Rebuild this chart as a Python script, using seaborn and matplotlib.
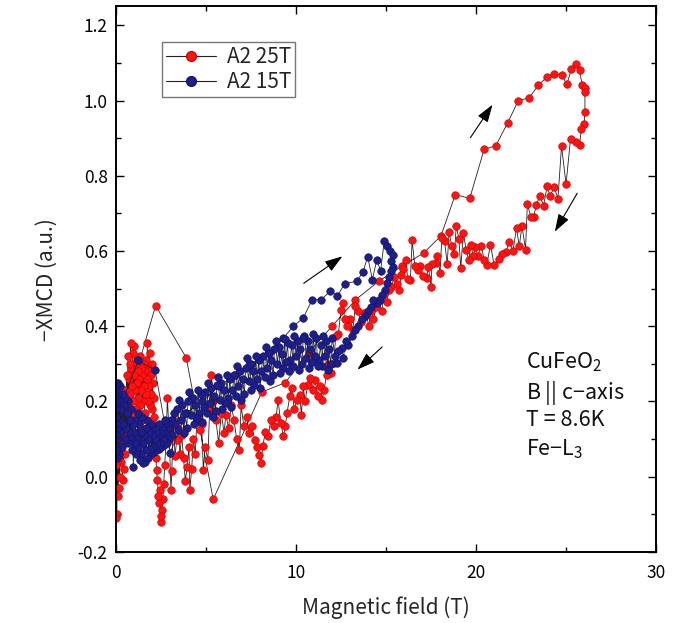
import matplotlib
matplotlib.use("Agg")
import matplotlib.pyplot as plt
import matplotlib.ticker as mticker
from matplotlib.lines import Line2D
import seaborn as sns
import pandas as pd

# ---------------- data ----------------
series_names = ["A2 25T", "A2 15T"]

# A2 25T : up-sweep then down-sweep (pulse)
red_field = [
    0.05, 0.4, 1.2, 2.2, 3.9, 5.4, 8.1, 9.4, 10.7, 12.0, 13.3, 14.6, 15.9, 17.1,
    18.05, 18.85, 19.65, 20.45, 21.1, 21.75, 22.35, 22.95, 23.45, 23.95, 24.35,
    24.75, 25.05, 25.3, 25.55, 25.75, 25.9, 26.05, 26.05,
    26.05, 26.0, 25.85, 25.75, 25.55, 25.25, 25.0, 24.75, 24.55, 24.35, 24.1,
    23.95, 23.75, 23.55, 23.35, 23.2, 23.05, 22.85, 22.75, 22.55, 22.4, 22.25,
    22.05, 21.85, 21.65, 21.45, 21.25, 21.0, 20.8, 20.6, 20.45, 20.3, 20.1,
    19.95, 19.85, 19.7, 19.6, 19.45, 19.3, 19.15, 19.05, 18.9, 18.8, 18.65,
    18.5, 18.4, 18.25, 18.1, 18.0, 17.85, 17.75, 17.55, 17.5, 17.35, 17.25,
    17.05, 16.9, 16.75, 16.6, 16.45, 16.35, 16.2, 16.1, 15.95, 15.85, 15.7,
    15.6, 15.45, 15.3, 15.15, 15.05, 14.9, 14.75, 14.6, 14.45, 14.3, 14.15,
    14.05, 13.9, 13.75, 13.6, 13.45, 13.3, 13.15, 13.0, 12.85, 12.7, 12.6,
    12.5, 12.35, 12.2, 12.1, 11.95, 11.8, 11.7, 11.55, 11.45, 11.35, 11.2,
    11.05, 10.95, 10.8, 10.65, 10.5, 10.4, 10.3, 10.2, 10.05, 9.9, 9.75, 9.65,
    9.5, 9.4, 9.3, 9.15, 9.0, 8.9, 8.75, 8.6, 8.45, 8.3, 8.15, 8.05, 7.95,
    7.85, 7.7, 7.55, 7.4, 7.25, 7.1, 6.95, 6.85, 6.7, 6.55, 6.4, 6.25, 6.1,
    6.0, 5.85, 5.7, 5.55, 5.4, 5.3, 5.2, 5.1, 4.95, 4.85, 4.75, 4.65, 4.5,
    4.4, 4.3, 4.2, 4.1, 4.05, 3.95, 3.85, 3.75, 3.65, 3.55, 3.45, 3.37, 3.28,
    3.18, 3.1, 3.05, 2.95, 2.85, 2.78, 2.7, 2.65, 2.6, 2.55, 2.52, 2.48, 2.44,
    2.4, 2.35, 2.3, 2.25,
    2.22, 2.19, 2.16, 2.13, 2.1, 2.07, 2.04, 2.01, 1.98, 1.95,
    1.92, 1.89, 1.86, 1.83, 1.8, 1.77, 1.74, 1.71, 1.68, 1.65,
    1.62, 1.59, 1.56, 1.53, 1.5, 1.47, 1.44, 1.41, 1.38, 1.35,
    1.32, 1.29, 1.26, 1.23, 1.2, 1.17, 1.14, 1.11, 1.08, 1.05,
    1.02, 0.99, 0.96, 0.93, 0.9, 0.87, 0.84, 0.81, 0.78, 0.75,
    0.72, 0.69, 0.66, 0.63, 0.6, 0.57, 0.54, 0.51, 0.48, 0.45,
    0.42, 0.39, 0.36, 0.33, 0.3, 0.27, 0.24, 0.21, 0.18, 0.15,
    0.13, 0.11, 0.09, 0.07, 0.05, 0.04, 0.03, 0.02, 0.01, 0.0,
]
red_xmcd = [
    -0.03, 0.12, 0.29, 0.455, 0.316, -0.06, 0.225, 0.25, 0.33, 0.40, 0.47, 0.52, 0.56, 0.595,
    0.64, 0.75, 0.74, 0.87, 0.88, 0.94, 1.0, 1.007, 1.04, 1.063, 1.071,
    1.067, 1.044, 1.084, 1.098, 1.08, 1.04, 1.033, 1.022,
    0.97, 0.938, 0.923, 0.882, 0.89, 0.898, 0.778, 0.879, 0.739, 0.769, 0.747,
    0.772, 0.72, 0.747, 0.723, 0.69, 0.691, 0.724, 0.604, 0.667, 0.612, 0.661,
    0.60, 0.625, 0.597, 0.592, 0.578, 0.564, 0.617, 0.564, 0.575, 0.614, 0.588,
    0.61, 0.586, 0.617, 0.575, 0.602, 0.648, 0.555, 0.632, 0.666, 0.593, 0.614,
    0.65, 0.566, 0.626, 0.635, 0.542, 0.588, 0.568, 0.566, 0.505, 0.558, 0.528,
    0.533, 0.56, 0.55, 0.561, 0.628, 0.522, 0.526, 0.577, 0.552, 0.535, 0.497,
    0.513, 0.53, 0.505, 0.496, 0.464, 0.485, 0.44, 0.47, 0.45, 0.418, 0.44,
    0.40, 0.43, 0.435, 0.41, 0.44, 0.453, 0.39, 0.42, 0.40, 0.418, 0.462,
    0.444, 0.38, 0.373, 0.302, 0.276, 0.30, 0.271, 0.23, 0.205, 0.24, 0.215,
    0.258, 0.23, 0.262, 0.245, 0.20, 0.24, 0.165, 0.218, 0.205, 0.18, 0.236, 0.214,
    0.169, 0.134, 0.107, 0.143, 0.205, 0.16, 0.134, 0.152, 0.107, 0.12, 0.081, 0.036, 0.059,
    0.08, 0.098, 0.134, 0.116, 0.16, 0.134, 0.19, 0.072, 0.10, 0.152, 0.19, 0.13, 0.165,
    0.116, 0.17, 0.09, 0.15, 0.20, 0.27, 0.178, 0.045, 0.08, 0.019, 0.14, 0.125, 0.16,
    0.06, 0.10, 0.02, -0.035, 0.08, 0.027, -0.012, 0.05, 0.11, 0.06, 0.13, 0.098, 0.054,
    0.15, 0.014, -0.035, 0.12, 0.209, 0.09, 0.03, -0.02, -0.06, -0.088, -0.119, -0.105, -0.035,
    -0.07, -0.05, -0.008, 0.019,
    0.05, 0.12, 0.08, 0.16, 0.21, 0.14, 0.25, 0.18, 0.30, 0.22,
    0.27, 0.19, 0.33, 0.24, 0.29, 0.20, 0.356, 0.26, 0.31, 0.22,
    0.28, 0.17, 0.30, 0.24, 0.20, 0.27, 0.15, 0.29, 0.23, 0.32,
    0.19, 0.26, 0.14, 0.28, 0.21, 0.31, 0.25, 0.18, 0.30, 0.23,
    0.347, 0.27, 0.20, 0.33, 0.24, 0.17, 0.29, 0.356, 0.22, 0.30,
    0.26, 0.19, 0.32, 0.13, 0.27, 0.20, 0.10, 0.23, 0.06, 0.17,
    0.02, 0.14, -0.01, 0.10, 0.19, 0.04, 0.22, 0.0, 0.12, -0.03,
    0.08, 0.20, -0.05, 0.15, 0.04, -0.10, 0.10, -0.11, 0.03, 0.06,
]

# A2 15T : up-sweep then down-sweep
blue_field = [
    0.05, 0.35, 1.24, 2.17, 3.0, 3.9, 4.8, 5.7, 6.6, 7.5, 8.5, 9.3, 9.85, 10.4,
    10.9, 11.4, 11.9, 12.3, 12.7, 13.37, 13.72, 13.98, 14.24, 14.48, 14.7, 14.9,
    15.07, 15.2, 15.37,
    15.3, 15.4, 15.26, 15.15, 15.05, 14.94, 14.8, 14.67, 14.48, 14.3, 14.15, 14.0,
    13.83, 13.65, 13.46, 13.28, 13.1, 12.9, 12.75, 12.63, 12.54, 12.35, 12.26,
    12.17,
    12.01, 11.93, 11.83, 11.76, 11.69, 11.6, 11.51, 11.45, 11.36, 11.27,
    11.2, 11.13, 11.03, 10.96, 10.89, 10.8, 10.71, 10.64, 10.57, 10.47,
    10.4, 10.33, 10.23, 10.16, 10.09, 10.0, 9.91, 9.85, 9.76, 9.67,
    9.6, 9.53, 9.43, 9.36, 9.29, 9.2, 9.11, 9.05, 8.96, 8.87,
    8.8, 8.73, 8.63, 8.56, 8.49, 8.4, 8.31, 8.25, 8.16, 8.07,
    8.0, 7.93, 7.83, 7.76, 7.69, 7.6, 7.51, 7.45, 7.36, 7.27,
    7.2, 7.13, 7.03, 6.96, 6.89, 6.8, 6.71, 6.65, 6.56, 6.47,
    6.4, 6.33, 6.23, 6.16, 6.09, 6.0, 5.91, 5.85, 5.76, 5.67,
    5.6, 5.53, 5.43, 5.36, 5.29, 5.2, 5.11, 5.05, 4.96, 4.87,
    4.8, 4.73, 4.63, 4.56, 4.49, 4.4, 4.31, 4.25, 4.16, 4.07,
    4.0, 3.93, 3.83, 3.76, 3.69, 3.6, 3.51, 3.45, 3.36, 3.27,
    3.2, 3.12, 3.04,
    2.96, 2.92, 2.88, 2.84, 2.8, 2.76, 2.72, 2.68, 2.64, 2.6,
    2.56, 2.52, 2.48, 2.44, 2.4, 2.36, 2.32, 2.28, 2.24, 2.2,
    2.16, 2.12, 2.08, 2.04, 2.0, 1.96, 1.92, 1.88, 1.84, 1.8,
    1.76, 1.72, 1.68, 1.64, 1.6, 1.56, 1.52, 1.48, 1.44, 1.4,
    1.36, 1.32, 1.28, 1.24, 1.2, 1.16, 1.12, 1.08, 1.04, 1.0,
    0.96, 0.92, 0.88, 0.84, 0.8, 0.76, 0.72, 0.68, 0.64, 0.6,
    0.56, 0.52, 0.48, 0.44, 0.4, 0.36, 0.32, 0.28, 0.24, 0.2,
    0.17, 0.14, 0.12, 0.1, 0.08, 0.06, 0.05, 0.04, 0.03, 0.02,
    0.015, 0.01, 0.005, 0.0, 0.0, 0.01, 0.02, 0.0, 0.01, 0.0,
]
blue_xmcd = [
    0.15, 0.2, 0.309, 0.283, 0.063, 0.17, 0.2, 0.24, 0.27, 0.30, 0.33, 0.369, 0.40, 0.422,
    0.471, 0.471, 0.493, 0.481, 0.513, 0.52, 0.544, 0.585, 0.524, 0.575, 0.548, 0.626,
    0.613, 0.60, 0.59,
    0.573, 0.558, 0.546, 0.53, 0.515, 0.497, 0.484, 0.471, 0.462, 0.471, 0.45, 0.44,
    0.426, 0.418, 0.40, 0.39, 0.373, 0.351, 0.36, 0.316, 0.342, 0.333, 0.302,
    0.32,
    0.37, 0.30, 0.34, 0.285, 0.36, 0.32, 0.375, 0.295, 0.35, 0.31,
    0.295, 0.37, 0.32, 0.38, 0.305, 0.34, 0.29, 0.36, 0.315, 0.375,
    0.37, 0.30, 0.34, 0.285, 0.36, 0.32, 0.375, 0.295, 0.35, 0.31,
    0.28, 0.355, 0.305, 0.365, 0.29, 0.325, 0.275, 0.345, 0.30, 0.36,
    0.34, 0.27, 0.31, 0.255, 0.33, 0.29, 0.345, 0.265, 0.32, 0.28,
    0.235, 0.31, 0.26, 0.32, 0.245, 0.28, 0.23, 0.30, 0.255, 0.315,
    0.29, 0.22, 0.26, 0.205, 0.28, 0.24, 0.295, 0.215, 0.27, 0.23,
    0.185, 0.26, 0.21, 0.27, 0.195, 0.23, 0.18, 0.25, 0.205, 0.265,
    0.245, 0.175, 0.215, 0.16, 0.235, 0.195, 0.25, 0.17, 0.225, 0.185,
    0.145, 0.22, 0.17, 0.23, 0.155, 0.19, 0.14, 0.21, 0.165, 0.225,
    0.20, 0.13, 0.17, 0.115, 0.19, 0.15, 0.205, 0.125, 0.18, 0.14,
    0.17, 0.11, 0.15,
    0.14, 0.10, 0.13, 0.09, 0.143, 0.11, 0.15, 0.085, 0.12, 0.10,
    0.13, 0.08, 0.115, 0.09, 0.14, 0.075, 0.107, 0.09, 0.12, 0.07,
    0.10, 0.065, 0.13, 0.08, 0.11, 0.06, 0.14, 0.075, 0.12, 0.05,
    0.10, 0.15, 0.07, 0.13, 0.04, 0.11, 0.036, 0.09, 0.16, 0.06,
    0.12, 0.045, 0.14, 0.08, 0.17, 0.10, 0.06, 0.15, 0.09, 0.12,
    0.027, 0.14, 0.07, 0.18, 0.10, 0.15, 0.12, 0.20, 0.09, 0.17,
    0.13, 0.21, 0.10, 0.19, 0.14, 0.22, 0.08, 0.18, 0.12, 0.24,
    0.06, 0.20, 0.15, 0.25, 0.10, 0.22, 0.05, 0.19, 0.13, 0.25,
    0.08, 0.21, 0.16, 0.24, 0.11, 0.20, 0.07, 0.23, 0.14, 0.18,
]

# annotation text
info_lines = [r"CuFeO$_2$", r"B || c$-$axis", "T = 8.6K", r"Fe$-$L$_3$"]
info_y = [0.305, 0.222, 0.152, 0.072]

# ---------------- style ----------------
sns.set_theme(style="ticks")
plt.rcParams["font.family"] = ["Noto Sans CJK JP", "DejaVu Sans"]
plt.rcParams["mathtext.default"] = "regular"
plt.rcParams["axes.unicode_minus"] = True

fig = plt.figure(figsize=(6.75, 6.23), dpi=100)
ax = fig.add_axes([0.1719, 0.114, 0.80, 0.8756])

df_red = pd.DataFrame({"field": red_field, "xmcd": red_xmcd})
df_blue = pd.DataFrame({"field": blue_field, "xmcd": blue_xmcd})

styles = {
    "A2 25T": dict(mfc="#ff1414", mec="#d40000"),
    "A2 15T": dict(mfc="#1e1e8c", mec="#141462"),
}

for name, d in zip(series_names, [df_red, df_blue]):
    sns.lineplot(data=d, x="field", y="xmcd", sort=False, estimator=None,
                 color="#222222", linewidth=0.6, marker="o", markersize=5.4,
                 markerfacecolor=styles[name]["mfc"],
                 markeredgecolor=styles[name]["mec"], markeredgewidth=0.5,
                 ax=ax, legend=False)

ax.set_xlim(0, 30)
ax.set_ylim(-0.2, 1.25)
ax.xaxis.set_major_locator(mticker.MultipleLocator(10))
ax.xaxis.set_minor_locator(mticker.MultipleLocator(5))
ax.yaxis.set_major_locator(mticker.MultipleLocator(0.2))
ax.yaxis.set_minor_locator(mticker.MultipleLocator(0.1))
ax.yaxis.set_major_formatter(mticker.FormatStrFormatter("%.1f"))
ax.tick_params(which="both", direction="in", top=True, right=True,
               width=1.0, colors="black", labelsize=12.5)
ax.tick_params(which="major", length=6)
ax.tick_params(which="minor", length=3.5)
ax.tick_params(axis="x", pad=9)
ax.tick_params(axis="y", pad=6)
for sp in ax.spines.values():
    sp.set_linewidth(1.4)
    sp.set_color("black")
    sp.set_visible(True)

ax.set_xlabel("Magnetic field (T)", fontsize=15, labelpad=10)
ax.set_ylabel("\u2212XMCD (a.u.)", fontsize=15, labelpad=14)

# legend
handles = [
    Line2D([0], [0], color="#222222", lw=0.8, marker="o", markersize=7,
           markerfacecolor=styles[n]["mfc"], markeredgecolor=styles[n]["mec"])
    for n in series_names
]
leg = ax.legend(handles, series_names, loc="upper left",
                bbox_to_anchor=(0.085, 0.935), fontsize=15, frameon=True,
                fancybox=False, edgecolor="#555555", handlelength=2.4,
                borderpad=0.2, labelspacing=0.15, handletextpad=0.5,
                borderaxespad=0.0)
leg.get_frame().set_linewidth(1.0)

# arrows
arrows = [((10.3, 0.51), (12.7, 0.59)), ((14.9, 0.35), (13.3, 0.28)),
          ((19.6, 0.895), (21.0, 0.995)), ((25.7, 0.76), (24.3, 0.645))]
for (x0, y0), (x1, y1) in arrows:
    ax.annotate("", xy=(x1, y1), xytext=(x0, y0),
                arrowprops=dict(arrowstyle="-|>,head_length=0.9,head_width=0.3",
                                color="black", lw=0.8))

for t, yy in zip(info_lines, info_y):
    ax.text(22.8, yy, t, fontsize=15.5, ha="left", va="center", color="#111111")

fig.savefig("out.png", dpi=100)
